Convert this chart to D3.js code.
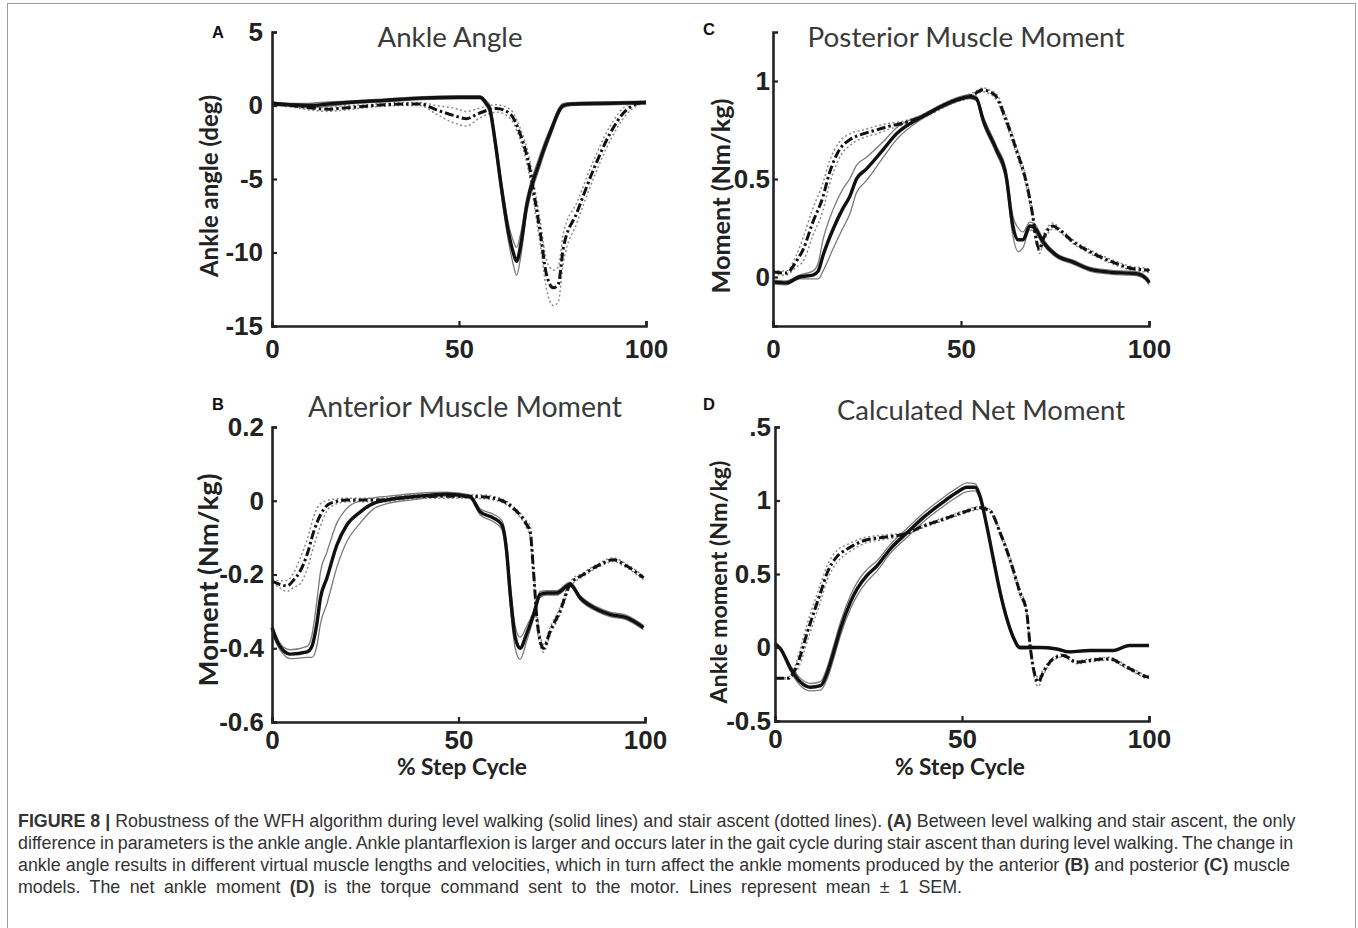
<!DOCTYPE html>
<html>
<head>
<meta charset="UTF-8" />
<script src="https://cdn.jsdelivr.net/npm/d3@7/dist/d3.min.js"></script>
<style>
  body { margin: 0; background: #fff; }
</style>
</head>
<body>
<div id="fig"></div>
<script>
// ---- data ----
const stepTicks = [0, 50, 100];
const angleTicks = [-15, -10, -5, 0, 5];
const anteriorTicks = [-0.6, -0.4, -0.2, 0, 0.2];
const posteriorTicks = [0, 0.5, 1];
const netTicks = [-0.5, 0, 0.5, 1, 1.5];

// A: ankle angle
const angleLevelX = [0, 5, 10, 15, 20, 30, 40, 50, 55.6, 57.4, 58.3, 59.6, 61.4, 63.2, 64.5, 65.4, 66.5, 68.1, 71.2, 74.3, 77.9, 80, 90, 100];
const angleLevelY = [0.15, 0.05, 0, 0.1, 0.2, 0.35, 0.5, 0.56, 0.56, 0.1, -0.3, -2.35, -5.7, -8.6, -10, -10.6, -9.5, -6.8, -4.1, -1.9, 0, 0.1, 0.15, 0.2];
const angleLevelSem = [0.1, 0.1, 0.15, 0.15, 0.1, 0.1, 0.1, 0.1, 0.1, 0.2, 0.3, 0.4, 0.5, 0.6, 0.8, 0.95, 0.8, 0.5, 0.4, 0.3, 0.15, 0.1, 0.1, 0.1];
const angleStairX = [0, 5, 10, 15, 20, 25, 30, 35, 39.6, 44, 48.5, 52, 55.2, 60, 63.6, 66.3, 69, 70.3, 71.7, 73.4, 75.2, 76.5, 77.9, 81.5, 85.9, 90.4, 94.8, 99.3, 100];
const angleStairY = [0.1, 0, -0.15, -0.25, -0.15, -0.05, 0.05, 0.1, 0.1, -0.3, -0.67, -0.9, -0.55, -0.2, -0.55, -1.9, -4.4, -6.4, -8.6, -11.5, -12.4, -12.2, -9.7, -7.3, -4.4, -1.9, -0.3, 0.2, 0.2];
const angleStairSem = [0.1, 0.1, 0.15, 0.15, 0.15, 0.1, 0.1, 0.1, 0.1, 0.3, 0.5, 0.5, 0.35, 0.25, 0.3, 0.4, 0.6, 0.7, 0.8, 1.0, 1.2, 1.2, 1.0, 0.7, 0.6, 0.5, 0.3, 0.1, 0.1];

// B: anterior muscle moment
const antLevelX = [0, 1.3, 3.1, 4.9, 9.4, 10.7, 12, 13, 14.7, 17.4, 20.1, 23.7, 27.2, 30.8, 37.9, 46.9, 53.1, 55.8, 59.4, 61.6, 62.9, 63.8, 65.2, 66.5, 68.3, 70.1, 71.9, 73.7, 76.3, 79.9, 82.6, 87.1, 90.6, 95.1, 99.6];
const antLevelY = [-0.344, -0.38, -0.407, -0.416, -0.41, -0.395, -0.335, -0.263, -0.21, -0.12, -0.065, -0.03, -0.007, 0.002, 0.011, 0.018, 0.011, -0.03, -0.047, -0.065, -0.137, -0.245, -0.37, -0.4, -0.36, -0.31, -0.254, -0.25, -0.25, -0.227, -0.263, -0.294, -0.308, -0.317, -0.344];
const antLevelSem = [0.01, 0.01, 0.01, 0.012, 0.015, 0.03, 0.06, 0.07, 0.07, 0.06, 0.045, 0.03, 0.015, 0.01, 0.008, 0.005, 0.005, 0.008, 0.01, 0.012, 0.02, 0.03, 0.03, 0.03, 0.02, 0.01, 0.008, 0.006, 0.006, 0.006, 0.006, 0.006, 0.006, 0.006, 0.006];
const antStairX = [0, 2.2, 4, 5.8, 7.6, 9.4, 11.2, 13, 15.6, 20.1, 29, 37.9, 46.9, 55.8, 61.2, 64.7, 68.3, 69.2, 70.1, 71, 71.9, 72.8, 74.6, 77.2, 79.9, 83.5, 87.9, 91.5, 95.1, 99.6];
const antStairY = [-0.218, -0.227, -0.231, -0.215, -0.19, -0.146, -0.083, -0.038, -0.007, 0.002, 0.002, 0.011, 0.012, 0.011, 0.002, -0.02, -0.065, -0.083, -0.19, -0.317, -0.38, -0.4, -0.353, -0.3, -0.227, -0.2, -0.173, -0.16, -0.177, -0.209];
const antStairSem = [0.005, 0.01, 0.015, 0.02, 0.035, 0.04, 0.04, 0.03, 0.01, 0.005, 0.005, 0.005, 0.005, 0.005, 0.005, 0.005, 0.01, 0.015, 0.02, 0.02, 0.015, 0.01, 0.01, 0.01, 0.008, 0.005, 0.005, 0.005, 0.005, 0.005];

// C: posterior muscle moment
const postLevelX = [0, 3.5, 7, 10.6, 12, 13.3, 16, 18.6, 20.4, 22.2, 24.8, 29.3, 32.8, 39.9, 47, 52.3, 54.1, 55.9, 59.4, 62, 63.8, 65.2, 66.5, 68.3, 69.6, 71.8, 75.4, 79.8, 84.2, 89.5, 96.6, 99.7, 100];
const postLevelY = [-0.025, -0.03, 0, 0.01, 0.03, 0.11, 0.245, 0.35, 0.41, 0.5, 0.55, 0.65, 0.73, 0.82, 0.89, 0.92, 0.91, 0.8, 0.65, 0.515, 0.26, 0.19, 0.19, 0.26, 0.25, 0.18, 0.11, 0.076, 0.04, 0.025, 0.017, -0.017, -0.03];
const postLevelSem = [0.01, 0.01, 0.01, 0.02, 0.04, 0.08, 0.1, 0.1, 0.09, 0.07, 0.06, 0.04, 0.03, 0.01, 0.01, 0.01, 0.01, 0.02, 0.02, 0.03, 0.05, 0.06, 0.04, 0.02, 0.02, 0.015, 0.01, 0.01, 0.01, 0.01, 0.01, 0.01, 0.01];
const postStairX = [0, 3.5, 6.2, 8, 10.6, 13.3, 15, 17.7, 20.4, 23.9, 27.5, 31, 34.6, 39.9, 47, 53.2, 55.9, 57.6, 59.4, 62, 64.7, 67.4, 69.1, 70, 70.9, 71.8, 74.5, 76.2, 79.8, 84.2, 90.4, 95.7, 99.7, 100];
const postStairY = [0.025, 0.02, 0.08, 0.14, 0.28, 0.41, 0.53, 0.65, 0.7, 0.73, 0.75, 0.77, 0.785, 0.82, 0.89, 0.93, 0.955, 0.945, 0.92, 0.8, 0.65, 0.48, 0.31, 0.19, 0.14, 0.19, 0.26, 0.24, 0.18, 0.13, 0.076, 0.042, 0.034, 0.03];
const postStairSem = [0.01, 0.01, 0.03, 0.06, 0.07, 0.07, 0.06, 0.04, 0.03, 0.02, 0.02, 0.015, 0.01, 0.01, 0.01, 0.01, 0.01, 0.01, 0.015, 0.02, 0.02, 0.02, 0.02, 0.02, 0.02, 0.02, 0.015, 0.01, 0.01, 0.01, 0.01, 0.01, 0.01, 0.01];

// D: calculated net moment
const netLevelX = [0, 1.5, 4.2, 6.8, 9.5, 12.2, 14, 15.7, 17.5, 20.2, 22, 24.6, 27.3, 30.8, 35.3, 39.7, 44.2, 48.6, 51.3, 53.5, 54.8, 56.6, 58.4, 60.2, 62, 63.7, 65.5, 70.8, 75.3, 78.8, 84.2, 90.4, 94.8, 99.7, 100];
const netLevelY = [0.025, -0.01, -0.145, -0.235, -0.27, -0.26, -0.17, -0.03, 0.127, 0.31, 0.4, 0.49, 0.556, 0.67, 0.78, 0.885, 0.975, 1.054, 1.09, 1.09, 1.03, 0.83, 0.6, 0.375, 0.195, 0.07, 0, 0, -0.01, -0.03, -0.02, -0.02, 0.014, 0.014, 0.014];
const netLevelSem = [0.01, 0.01, 0.02, 0.025, 0.025, 0.03, 0.04, 0.045, 0.045, 0.045, 0.045, 0.04, 0.035, 0.03, 0.03, 0.03, 0.03, 0.03, 0.03, 0.025, 0.02, 0.02, 0.02, 0.02, 0.015, 0.01, 0.01, 0.005, 0.005, 0.005, 0.005, 0.005, 0.005, 0.005, 0.005];
const netStairX = [0, 3.3, 5, 6.8, 8.6, 10.4, 12.2, 14, 16.6, 19.3, 23.7, 29.1, 34.4, 39.7, 45.1, 50.4, 54.8, 57.5, 60.2, 62.8, 65.5, 67.3, 68.2, 69.1, 70.4, 71.7, 74.4, 77.1, 80.6, 84.2, 89.5, 93.1, 96.6, 99.7, 100];
const netStairY = [-0.21, -0.21, -0.17, -0.055, 0.1, 0.24, 0.375, 0.51, 0.62, 0.67, 0.726, 0.75, 0.77, 0.826, 0.873, 0.92, 0.95, 0.93, 0.78, 0.6, 0.375, 0.24, 0.014, -0.145, -0.235, -0.17, -0.077, -0.054, -0.1, -0.088, -0.077, -0.12, -0.167, -0.2, -0.2];
const netStairSem = [0.005, 0.005, 0.02, 0.05, 0.06, 0.06, 0.06, 0.05, 0.04, 0.03, 0.02, 0.015, 0.01, 0.01, 0.01, 0.01, 0.01, 0.01, 0.015, 0.02, 0.02, 0.02, 0.03, 0.03, 0.03, 0.02, 0.01, 0.01, 0.01, 0.01, 0.01, 0.01, 0.01, 0.01, 0.01];

const captionLines = [
  "**FIGURE 8 |** Robustness of the WFH algorithm during level walking (solid lines) and stair ascent (dotted lines). **(A)** Between level walking and stair ascent, the only",
  "difference in parameters is the ankle angle. Ankle plantarflexion is larger and occurs later in the gait cycle during stair ascent than during level walking. The change in",
  "ankle angle results in different virtual muscle lengths and velocities, which in turn affect the ankle moments produced by the anterior **(B)** and posterior **(C)** muscle",
  "models. The net ankle moment **(D)** is the torque command sent to the motor. Lines represent mean ± 1 SEM."
];

// ---- layout ----
const panels = [
  { letter: "A", title: "Ankle Angle", ylabel: "Ankle angle (deg)", domain: [-15, 5], ticks: angleTicks,
    left: 272, right: 646, top: 32, bottom: 326, xPad: 14, yPad: 9,
    level: [angleLevelX, angleLevelY, angleLevelSem], stair: [angleStairX, angleStairY, angleStairSem],
    letterPos: [212, 38], titlePos: [450, 47, 145], ylabPos: [218, 186, 182], xlab: null },
  { letter: "C", title: "Posterior Muscle Moment", ylabel: "Moment (Nm/kg)", domain: [-0.25, 1.25], ticks: posteriorTicks,
    left: 773, right: 1149, top: 32, bottom: 326, xPad: 14, yPad: 3,
    level: [postLevelX, postLevelY, postLevelSem], stair: [postStairX, postStairY, postStairSem],
    letterPos: [703, 35], titlePos: [966, 47, 317], ylabPos: [730, 196, 195], xlab: null },
  { letter: "B", title: "Anterior Muscle Moment", ylabel: "Moment (Nm/kg)", domain: [-0.6, 0.2], ticks: anteriorTicks,
    left: 272, right: 645, top: 427, bottom: 722, xPad: 9, yPad: 8,
    level: [antLevelX, antLevelY, antLevelSem], stair: [antStairX, antStairY, antStairSem],
    letterPos: [212, 410], titlePos: [465, 417, 314], ylabPos: [218, 580, 213], xlab: [462, 775, 130] },
  { letter: "D", title: "Calculated Net Moment", ylabel: "Ankle moment (Nm/kg)", domain: [-0.5, 1.5], ticks: netTicks,
    left: 775, right: 1149, top: 427, bottom: 721, xPad: 9, yPad: 4,
    level: [netLevelX, netLevelY, netLevelSem], stair: [netStairX, netStairY, netStairSem],
    letterPos: [703, 410], titlePos: [981, 420, 288], ylabPos: [727, 582, 243], xlab: [960, 775, 130] }
];

const W = 1358, H = 928;
const svg = d3.select("#fig").append("svg")
  .attr("width", W).attr("height", H)
  .attr("viewBox", [0, 0, W, H]);

svg.append("rect")
  .attr("x", 7.5).attr("y", 3.5).attr("width", 1348).attr("height", 980)
  .attr("fill", "none").attr("stroke", "#9c9c9c").attr("stroke-width", 1);

function fitWidth(text, w) {
  const fs = parseFloat(text.attr("font-size"));
  const len = text.node().getComputedTextLength();
  text.attr("font-size", (fs * w / len).toFixed(2));
}

function tickText(d) {
  if (d === 1.5) return ".5";  // the "1" is cut off in the original
  return String(d);
}

function drawPanel(p) {
  const x = d3.scaleLinear().domain([0, 100]).range([p.left, p.right]);
  const y = d3.scaleLinear().domain(p.domain).range([p.bottom, p.top]);
  const g = svg.append("g");

  const path = (xs, ys) => d3.line()
    .x((d, i) => x(xs[i]))
    .y(d => y(d))
    .curve(d3.curveMonotoneX)(ys);

  const [lx, ly, ls] = p.level;
  const [sx, sy, ss] = p.stair;

  // SEM bands (mean +/- 1 SEM)
  [1, -1].forEach(k => {
    g.append("path")
      .attr("d", path(sx, sy.map((v, i) => v + k * ss[i])))
      .attr("fill", "none").attr("stroke", "#8a8a8a").attr("stroke-width", 1.5)
      .attr("stroke-dasharray", "2,2.5");
    g.append("path")
      .attr("d", path(lx, ly.map((v, i) => v + k * ls[i])))
      .attr("fill", "none").attr("stroke", "#7a7a7a").attr("stroke-width", 1.3);
  });

  // stair ascent mean (dash-dot)
  g.append("path")
    .attr("d", path(sx, sy))
    .attr("fill", "none").attr("stroke", "#111").attr("stroke-width", 3)
    .attr("stroke-dasharray", "9,3,2.5,3");

  // level walking mean (solid)
  g.append("path")
    .attr("d", path(lx, ly))
    .attr("fill", "none").attr("stroke", "#111").attr("stroke-width", 3.4)
    .attr("stroke-linejoin", "round");

  const styleAxis = a => {
    a.attr("font-family", "'Liberation Sans', Arial, sans-serif")
      .attr("font-size", 26).attr("font-weight", "bold").attr("color", "#222");
    a.select(".domain").attr("stroke-width", 2.6);
    a.selectAll(".tick line").attr("stroke-width", 2.2);
  };

  g.append("g")
    .attr("transform", `translate(0,${p.bottom})`)
    .call(d3.axisBottom(x).tickValues(stepTicks).tickSize(-5).tickPadding(p.xPad).tickFormat(tickText))
    .call(styleAxis);

  g.append("g")
    .attr("transform", `translate(${p.left},0)`)
    .call(d3.axisLeft(y).tickValues(p.ticks).tickSize(-5).tickPadding(p.yPad).tickFormat(tickText))
    .call(styleAxis);

  // panel letter
  g.append("text")
    .attr("x", p.letterPos[0]).attr("y", p.letterPos[1])
    .attr("font-family", "'Liberation Sans', Arial, sans-serif")
    .attr("font-weight", "bold").attr("font-size", 16.5).attr("fill", "#111")
    .text(p.letter);

  // title
  const t = g.append("text")
    .attr("x", p.titlePos[0]).attr("y", p.titlePos[1])
    .attr("text-anchor", "middle")
    .attr("font-family", "Lato, 'Open Sans', sans-serif")
    .attr("font-size", 24).attr("fill", "#3a3a3a")
    .text(p.title);
  fitWidth(t, p.titlePos[2]);

  // y label
  const yl = g.append("text")
    .attr("transform", `translate(${p.ylabPos[0]},${p.ylabPos[1]}) rotate(-90)`)
    .attr("text-anchor", "middle")
    .attr("font-family", "Lato, 'Open Sans', sans-serif")
    .attr("font-weight", "bold").attr("font-size", 22).attr("fill", "#222")
    .text(p.ylabel);
  fitWidth(yl, p.ylabPos[2]);

  if (p.xlab) {
    const xl = g.append("text")
      .attr("x", p.xlab[0]).attr("y", p.xlab[1])
      .attr("text-anchor", "middle")
      .attr("font-family", "Lato, 'Open Sans', sans-serif")
      .attr("font-weight", "bold").attr("font-size", 22).attr("fill", "#222")
      .text("% Step Cycle");
    fitWidth(xl, p.xlab[2]);
  }
}

panels.forEach(drawPanel);

// caption
const cap = svg.append("g")
  .attr("font-family", "'Liberation Sans', Arial, sans-serif")
  .attr("fill", "#333");
const capBase = [827, 849, 871, 893];
const capWidths = [1278, 1275, 1272, 944];
let capSize = 15;
captionLines.forEach((line, i) => {
  const txt = cap.append("text").attr("x", 18).attr("y", capBase[i]).attr("font-size", capSize);
  line.split("**").forEach((seg, j) => {
    if (!seg) return;
    txt.append("tspan").attr("font-weight", j % 2 ? "bold" : "normal").text(seg);
  });
  if (i === 0) {
    fitWidth(txt, capWidths[0]);
    capSize = parseFloat(txt.attr("font-size"));
  } else {
    // widen the word gaps so each line ends where it does in the figure
    const len = txt.node().getComputedTextLength();
    const gaps = line.split(" ").length - 1;
    txt.attr("word-spacing", ((capWidths[i] - len) / gaps).toFixed(2));
  }
});
</script>
</body>
</html>
